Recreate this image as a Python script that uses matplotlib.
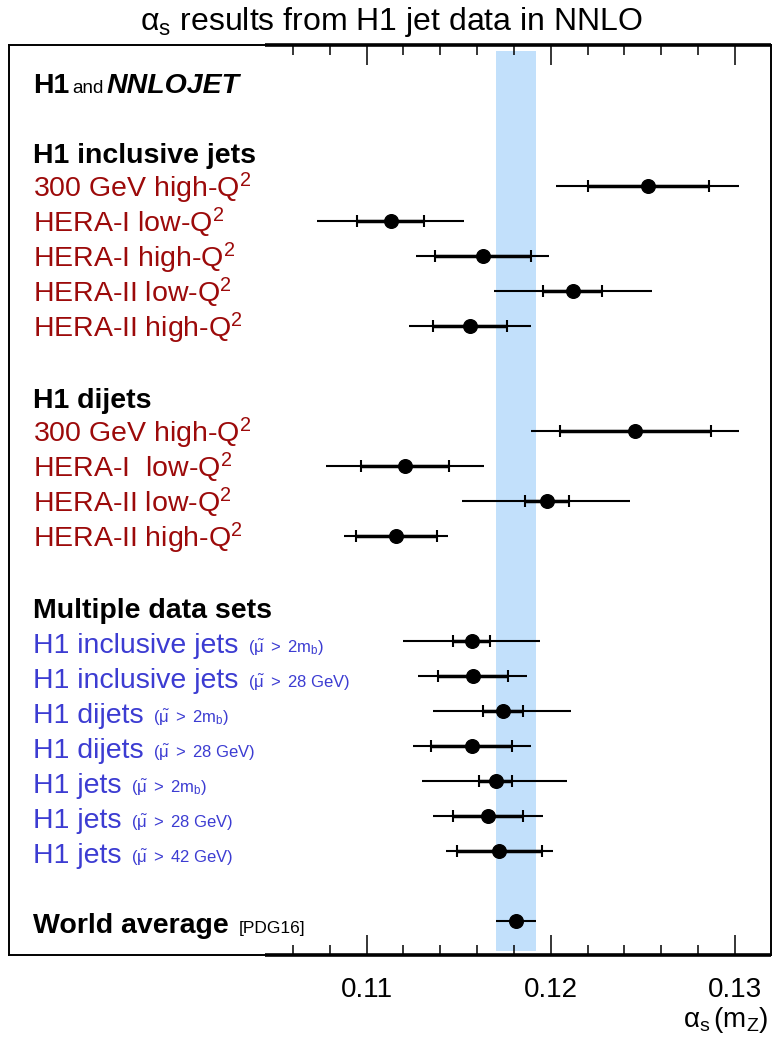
import matplotlib
matplotlib.use("Agg")
import matplotlib.pyplot as plt

plt.rcParams["font.family"] = ["Liberation Sans", "DejaVu Sans"]
plt.rcParams["mathtext.fontset"] = "custom"
plt.rcParams["mathtext.rm"] = "Liberation Sans"
plt.rcParams["mathtext.it"] = "Liberation Sans:italic"
plt.rcParams["mathtext.bf"] = "Liberation Sans:bold"

# ---------------------------------------------------------
# DATA (alpha_s values)
# ---------------------------------------------------------
incl_labels = ["300 GeV high-Q$^2$", "HERA-I low-Q$^2$", "HERA-I high-Q$^2$",
               "HERA-II low-Q$^2$", "HERA-II high-Q$^2$"]
incl_val = [0.1253, 0.1113, 0.1163, 0.1212, 0.1156]
incl_in_lo = [0.1220, 0.1095, 0.1137, 0.1196, 0.1136]
incl_in_hi = [0.1286, 0.1131, 0.1189, 0.1228, 0.1176]
incl_lo = [0.1203, 0.1073, 0.1127, 0.1169, 0.1123]
incl_hi = [0.1302, 0.1153, 0.1199, 0.1255, 0.1189]

dijet_labels = ["300 GeV high-Q$^2$", "HERA-I  low-Q$^2$", "HERA-II low-Q$^2$",
                "HERA-II high-Q$^2$"]
dijet_val = [0.1246, 0.1121, 0.1198, 0.1116]
dijet_in_lo = [0.1205, 0.1097, 0.1186, 0.1094]
dijet_in_hi = [0.1287, 0.1145, 0.1210, 0.1138]
dijet_lo = [0.1189, 0.1078, 0.1152, 0.1088]
dijet_hi = [0.1302, 0.1164, 0.1243, 0.1144]

multi_labels = ["H1 inclusive jets", "H1 inclusive jets", "H1 dijets", "H1 dijets",
                "H1 jets", "H1 jets", "H1 jets"]
CUT_MB = r"$(\mathrm{\tilde{\mu}}\ >\ 2\mathrm{m}_\mathrm{b})$"
CUT_28 = r"$(\mathrm{\tilde{\mu}}\ >\ 28\ \mathrm{GeV})$"
CUT_42 = r"$(\mathrm{\tilde{\mu}}\ >\ 42\ \mathrm{GeV})$"
multi_cuts = [CUT_MB, CUT_28, CUT_MB, CUT_28, CUT_MB, CUT_28, CUT_42]
multi_val = [0.1157, 0.1158, 0.1174, 0.1157, 0.1170, 0.1166, 0.1172]
multi_in_lo = [0.1147, 0.1139, 0.1163, 0.1135, 0.1161, 0.1147, 0.1149]
multi_in_hi = [0.1167, 0.1177, 0.1185, 0.1179, 0.1179, 0.1185, 0.1195]
multi_lo = [0.1120, 0.1128, 0.1136, 0.1125, 0.1130, 0.1136, 0.1143]
multi_hi = [0.1194, 0.1187, 0.1211, 0.1189, 0.1209, 0.1196, 0.1201]

world_val = 0.1181
world_lo = 0.1170
world_hi = 0.1192

# row slots (top to bottom)
incl_rows = [0, 1, 2, 3, 4]
dijet_rows = [7, 8, 9, 10]
multi_rows = [13, 14, 15, 16, 17, 18, 19]
world_row = 21

RED = "#9c0a0a"
BLUE = "#3c3cd2"
BAND = "#c2e0fb"

XMIN, XMAX = 0.0906, 0.13194
FS = 20.5

fig = plt.figure(figsize=(7.74, 10.45), dpi=100)
ax = fig.add_axes([0.012, 0.0866, 0.9837, 0.8699])
ax.set_xlim(XMIN, XMAX)
ax.set_ylim(21.95, -4.02)

# world average band
ax.fill_betweenx([-3.86, 21.84], world_lo, world_hi, color=BAND, lw=0, zorder=0)


def draw_point(y, val, lo, hi, in_lo=None, in_hi=None):
    ax.plot([lo, hi], [y, y], color="k", lw=1.5, zorder=3, solid_capstyle="butt")
    if in_lo is not None:
        ax.plot([in_lo, in_hi], [y, y], color="k", lw=2.5, zorder=3, solid_capstyle="butt")
        ax.plot([in_lo, in_hi], [y, y], ls="none", marker="|", ms=9.2, mew=1.5,
                color="k", zorder=4)
    ax.plot([val], [y], "o", ms=9.8, color="k", zorder=5)


for i, y in enumerate(incl_rows):
    draw_point(y, incl_val[i], incl_lo[i], incl_hi[i], incl_in_lo[i], incl_in_hi[i])
for i, y in enumerate(dijet_rows):
    draw_point(y, dijet_val[i], dijet_lo[i], dijet_hi[i], dijet_in_lo[i], dijet_in_hi[i])
for i, y in enumerate(multi_rows):
    draw_point(y, multi_val[i], multi_lo[i], multi_hi[i], multi_in_lo[i], multi_in_hi[i])
draw_point(world_row, world_val, world_lo, world_hi)

# ---------------------------------------------------------
# AXIS STYLE
# ---------------------------------------------------------
for s in ax.spines.values():
    s.set_linewidth(1.4)
for yy in [0, 1]:
    ax.plot([0.1045, XMAX], [yy, yy], transform=ax.get_xaxis_transform(),
            color="k", lw=2.6, clip_on=False, zorder=6, solid_capstyle="butt")

ax.set_xticks([0.11, 0.12, 0.13])
ax.set_xticklabels(["0.11", "0.12", "0.13"])
ax.set_xticks([t / 1000 for t in range(106, 131, 2) if t % 10], minor=True)
ax.tick_params(which="both", direction="in", top=True, bottom=True,
               left=False, labelleft=False, width=1.1)
ax.tick_params(which="major", length=14.5, labelsize=20, pad=16)
ax.tick_params(which="minor", length=7.2)
ax.set_yticks([])

# ---------------------------------------------------------
# TEXT
# ---------------------------------------------------------
X0 = 0.0919
OFF = 0.33
renderer = fig.canvas.get_renderer()


def pieces(y, parts, gap=4):
    x = X0
    for txt, kw in parts:
        t = ax.text(x, y, txt, va="baseline", ha="left", **kw)
        bb = t.get_window_extent(renderer)
        x = ax.transData.inverted().transform((bb.x1 + gap, 0))[0]


pieces(-3 + OFF, [("H1", dict(size=FS, weight="bold")),
                  ("and", dict(size=13.5)),
                  ("NNLOJET", dict(size=FS, weight="bold", style="italic"))], gap=3)

ax.text(X0, -1 + OFF, "H1 inclusive jets", size=FS, weight="bold", va="baseline")
for i, y in enumerate(incl_rows):
    ax.text(X0, y + OFF, incl_labels[i], size=FS, color=RED, va="baseline")

ax.text(X0, 6 + OFF, "H1 dijets", size=FS, weight="bold", va="baseline")
for i, y in enumerate(dijet_rows):
    ax.text(X0, y + OFF, dijet_labels[i], size=FS, color=RED, va="baseline")

ax.text(X0, 12 + OFF, "Multiple data sets", size=FS, weight="bold", va="baseline")
for i, y in enumerate(multi_rows):
    pieces(y + OFF, [(multi_labels[i], dict(size=FS, color=BLUE)),
                     (multi_cuts[i], dict(size=12, color=BLUE))], gap=9)

pieces(world_row + OFF, [("World average", dict(size=FS, weight="bold")),
                         ("[PDG16]", dict(size=12.5))], gap=10)

fig.text(0.506, 1 - 30 / 1045, r"$\mathrm{\alpha}_\mathrm{s}$ results from H1 jet data in NNLO",
         ha="center", va="baseline", size=23)
fig.text(768 / 774, 1 - 1027 / 1045, r"$\mathrm{\alpha}_\mathrm{s}\,(\mathrm{m}_\mathrm{Z})$",
         ha="right", va="baseline", size=20)

fig.savefig("out.png", dpi=100)
